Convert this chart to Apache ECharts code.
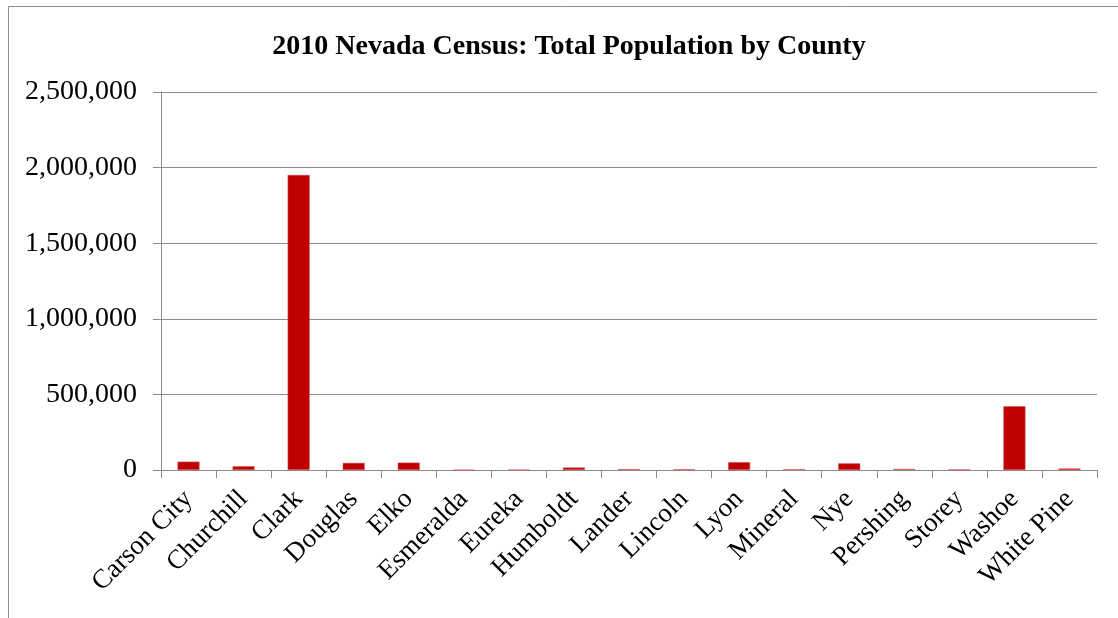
<!DOCTYPE html>
<html>
<head>
<meta charset="utf-8">
<script src="https://cdn.jsdelivr.net/npm/echarts@6/dist/echarts.min.js"></script>
<style>
html,body{margin:0;padding:0;background:#fff;}
#chart{width:1118px;height:618px;}
</style>
</head>
<body>
<div id="chart"></div>
<script>
const counties = ['Carson City','Churchill','Clark','Douglas','Elko','Esmeralda','Eureka','Humboldt','Lander','Lincoln','Lyon','Mineral','Nye','Pershing','Storey','Washoe','White Pine'];
const population = [55274, 24877, 1951269, 46997, 48818, 783, 1987, 16528, 5775, 5345, 51980, 4772, 43946, 6753, 4010, 421407, 10030];
const yTicks = [0, 500000, 1000000, 1500000, 2000000, 2500000];
const titleText = '2010 Nevada Census: Total Population by County';

const chart = echarts.init(document.getElementById('chart'), null, {renderer: 'canvas'});
const serif = '"Liberation Serif", "Times New Roman", serif';
const grey = '#8c8c8c';
chart.setOption({
  animation: false,
  backgroundColor: '#fff',
  title: {
    text: titleText,
    left: 564, top: 28, textAlign: 'center',
    textStyle: {fontFamily: serif, fontWeight: 'bold', fontSize: 28, color: '#000'}
  },
  graphic: [{
    type: 'rect', silent: true,
    shape: {x: 8.5, y: 6.5, width: 1130, height: 700},
    style: {fill: 'none', stroke: grey, lineWidth: 1}
  }],
  grid: {left: 161, right: 21, top: 92, bottom: 148, containLabel: false},
  xAxis: {
    type: 'category',
    data: counties,
    boundaryGap: true,
    axisLine: {lineStyle: {color: grey, width: 1}},
    axisTick: {show: true, inside: false, length: 8, lineStyle: {color: grey}},
    axisLabel: {rotate: 45, margin: 25, fontFamily: serif, fontSize: 27, color: '#000', interval: 0}
  },
  yAxis: {
    type: 'value',
    min: yTicks[0], max: yTicks[yTicks.length - 1], interval: yTicks[1] - yTicks[0],
    axisLine: {show: true, lineStyle: {color: grey, width: 1}},
    axisTick: {show: true, inside: false, length: 8, lineStyle: {color: grey}},
    splitLine: {show: true, lineStyle: {color: grey, width: 1}},
    axisLabel: {
      margin: 24, fontFamily: serif, fontSize: 28, color: '#000',
      formatter: v => v.toLocaleString('en-US')
    }
  },
  series: [{
    type: 'bar',
    data: population,
    barWidth: '40%',
    itemStyle: {color: '#C00000', borderColor: '#d65a5a', borderWidth: 0.5}
  }]
});
</script>
</body>
</html>
